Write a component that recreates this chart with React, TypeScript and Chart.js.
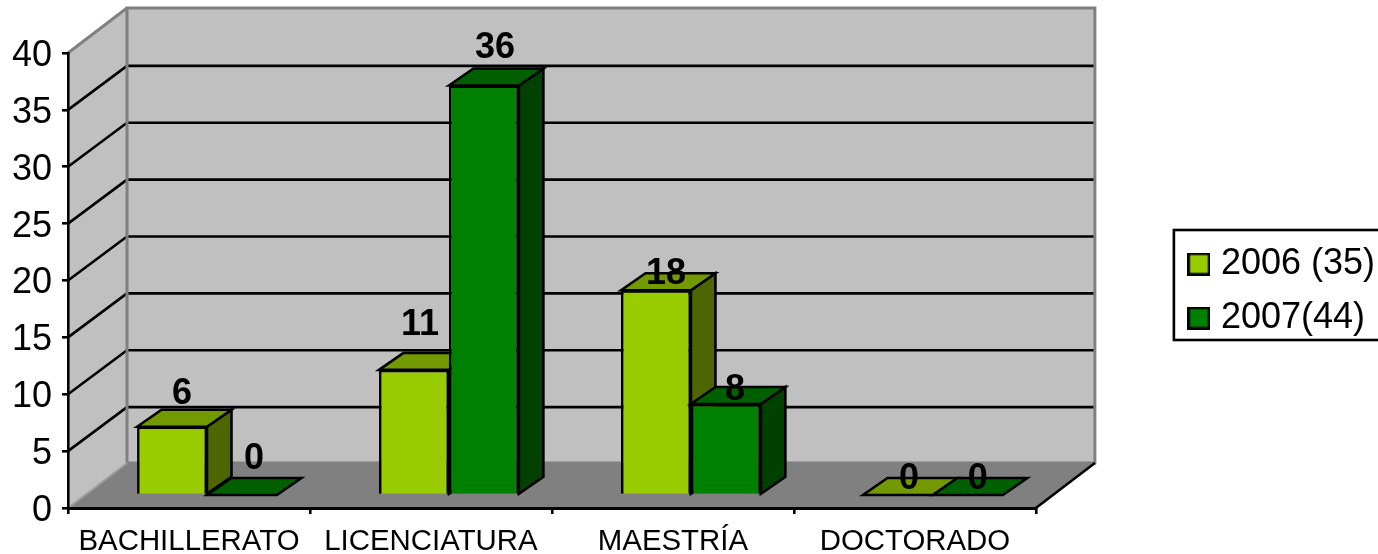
import React, { useEffect, useRef } from "react";
import { Chart, registerables, layouts } from "chart.js";

Chart.register(...registerables);

const categories = ["BACHILLERATO", "LICENCIATURA", "MAESTRÍA", "DOCTORADO"];
const seriesNames = ["2006 (35)", "2007(44)"];
const values2006 = [6, 11, 18, 0];
const values2007 = [0, 36, 8, 0];

const FONT = "'Liberation Sans', Arial, sans-serif";
const frontColors = ["#99cc00", "#008000"];
const topColors = ["#739900", "#006000"];
const sideColors = ["#4d6600", "#004000"];

// Depth of the 3D box, and of the bars within it
const WALL = { dx: 59, dy: -45 };
const GRID_DY = -44;
const BAR_SHIFT = { dx: 18, dy: -13 };
const BAR_DEPTH = { dx: 24.5, dy: -17 };
const LINE = 2.6;

// Offsets of the value labels from the front-top centre of each bar
const labelOffsets = [
  [[10, -33], [6, -45], [10, -16], [11, -16]],
  [[12, -36], [11, -37], [9, -14], [10, -16]],
];

function poly(ctx: CanvasRenderingContext2D, pts: number[][], fill: string | null, stroke: string | null, lw = LINE) {
  ctx.beginPath();
  pts.forEach(([x, y], i) => (i ? ctx.lineTo(x, y) : ctx.moveTo(x, y)));
  ctx.closePath();
  if (fill) {
    ctx.fillStyle = fill;
    ctx.fill();
  }
  if (stroke) {
    ctx.strokeStyle = stroke;
    ctx.lineWidth = lw;
    ctx.lineJoin = "miter";
    ctx.stroke();
  }
}

function line(ctx: CanvasRenderingContext2D, pts: number[][], stroke: string, lw: number) {
  ctx.beginPath();
  pts.forEach(([x, y], i) => (i ? ctx.lineTo(x, y) : ctx.moveTo(x, y)));
  ctx.strokeStyle = stroke;
  ctx.lineWidth = lw;
  ctx.stroke();
}

function drawFaces(ctx: CanvasRenderingContext2D, meta: any, index: number) {
  meta.data.forEach((el: any) => {
    const { x, y, base, width } = el.getProps(["x", "y", "base", "width"], true);
    const l = x - width / 2;
    const r = x + width / 2;
    const { dx, dy } = BAR_DEPTH;
    if (base - y > 0.5) {
      poly(ctx, [[r, y], [r + dx, y + dy], [r + dx, base + dy], [r, base]], sideColors[index], "#000");
    }
    poly(ctx, [[l, y], [l + dx, y + dy], [r + dx, y + dy], [r, y]], topColors[index], "#000");
  });
}

function swatch(color: string) {
  const c = document.createElement("canvas");
  c.width = 23;
  c.height = 23;
  const g = c.getContext("2d")!;
  g.fillStyle = color;
  g.fillRect(1, 1, 21, 21);
  g.strokeStyle = "#000";
  g.lineWidth = 2.6;
  g.strokeRect(1.3, 1.3, 20.4, 20.4);
  return c;
}

const spacer = (position: string, size: number) => ({
  position,
  weight: 0,
  fullSize: false,
  options: {},
  left: 0,
  top: 0,
  right: 0,
  bottom: 0,
  width: 0,
  height: 0,
  isHorizontal() {
    return position === "top";
  },
  update(w: number, h: number) {
    if (position === "top") {
      this.width = w;
      this.height = size;
    } else {
      this.width = size;
      this.height = h;
    }
  },
  draw() {},
});

const box3d = {
  id: "box3d",
  beforeInit(chart: any) {
    layouts.addBox(chart, spacer("right", 141));
    layouts.addBox(chart, spacer("top", 25));
  },
  beforeDraw(chart: any) {
    const { ctx, chartArea: a, scales } = chart;
    const y = scales.y;
    const { dx, dy } = WALL;
    ctx.save();
    const bl = [a.left + dx, a.bottom + dy];
    const tl = [a.left + dx, a.top + dy];
    const tr = [a.right + dx, a.top + dy];
    const br = [a.right + dx, a.bottom + dy];
    poly(ctx, [tl, tr, br, bl], "#c0c0c0", null);
    poly(ctx, [[a.left, a.top], tl, bl, [a.left, a.bottom]], "#c0c0c0", null);
    poly(ctx, [[a.left, a.bottom], bl, br, [a.right, a.bottom]], "#808080", null);
    y.ticks.forEach((t: any) => {
      if (t.value === y.min || t.value === y.max) return;
      const py = y.getPixelForValue(t.value);
      line(ctx, [[a.left, py], [a.left + dx, py + GRID_DY], [a.right + dx, py + GRID_DY]], "#000", LINE);
    });
    line(ctx, [bl, tl, tr, br, bl], "#808080", 3);
    line(ctx, [[a.left, a.top], tl], "#808080", 3);
    line(ctx, [[a.left, a.bottom], bl], "#a0a0a0", 2);
    line(ctx, [[a.right, a.bottom], br], "#000", LINE);
    const hb = chart.legend.legendHitBoxes;
    if (hb && hb.length) {
      ctx.strokeStyle = "#000";
      ctx.lineWidth = LINE;
      ctx.strokeRect(hb[0].left - 21, hb[0].top - 16, 300, hb[1].top + hb[1].height - hb[0].top + 20);
    }
    ctx.restore();
  },
  beforeDatasetDraw(chart: any, args: any) {
    if (args.index === 1) return false; // drawn last, so that it covers the side of the 2006 bar
    const { ctx } = chart;
    ctx.save();
    ctx.translate(BAR_SHIFT.dx, BAR_SHIFT.dy);
    drawFaces(ctx, args.meta, args.index);
    return true;
  },
  afterDatasetDraw(chart: any) {
    chart.ctx.restore();
  },
  afterDatasetsDraw(chart: any) {
    const { ctx } = chart;
    const meta = chart.getDatasetMeta(1);
    ctx.save();
    ctx.translate(BAR_SHIFT.dx, BAR_SHIFT.dy);
    drawFaces(ctx, meta, 1);
    meta.controller.draw();
    ctx.restore();
    ctx.save();
    ctx.font = `bold 36px ${FONT}`;
    ctx.fillStyle = "#000";
    ctx.textAlign = "center";
    ctx.textBaseline = "middle";
    [0, 1].forEach((d) => {
      const m = chart.getDatasetMeta(d);
      m.data.forEach((el: any, i: number) => {
        const value = chart.data.datasets[d].data[i];
        const [ox, oy] = labelOffsets[d][i];
        ctx.fillText(String(value), el.x + BAR_SHIFT.dx + ox, el.y + BAR_SHIFT.dy + oy);
      });
    });
    ctx.restore();
  },
};

export default function App() {
  const ref = useRef<HTMLCanvasElement>(null);
  useEffect(() => {
    const chart = new Chart(ref.current!, {
      type: "bar",
      data: {
        labels: categories,
        datasets: [
          { label: seriesNames[0], data: values2006, backgroundColor: frontColors[0], borderColor: "#000", borderWidth: LINE, clip: false as any },
          { label: seriesNames[1], data: values2007, backgroundColor: frontColors[1], borderColor: "#000", borderWidth: LINE, clip: false as any },
        ],
      },
      options: {
        animation: false,
        responsive: false,
        devicePixelRatio: 1,
        layout: { autoPadding: false, padding: { top: 28, right: -7, bottom: 0, left: 0 } },
        datasets: { bar: { categoryPercentage: 0.578, barPercentage: 1 } },
        plugins: {
          title: { display: false },
          tooltip: { enabled: false },
          legend: {
            position: "right",
            labels: {
              usePointStyle: true,
              pointStyleWidth: 8,
              boxWidth: 8,
              padding: 18,
              color: "#000",
              font: { family: FONT, size: 36 },
              generateLabels: (c: any) =>
                c.data.datasets.map((ds: any, i: number) => ({
                  text: ds.label,
                  datasetIndex: i,
                  fontColor: "#000",
                  pointStyle: swatch(frontColors[i]),
                  fillStyle: frontColors[i],
                  strokeStyle: "#000",
                  lineWidth: 0,
                })),
            },
          },
        },
        scales: {
          x: {
            afterFit: (s: any) => {
              s.height = 46;
            },
            border: { color: "#000", width: 3 },
            grid: { drawOnChartArea: false, color: "#000", lineWidth: LINE, tickLength: 6 },
            ticks: { color: "#000", font: { family: FONT, size: 29.4 }, padding: 10, maxRotation: 0, autoSkip: false },
          },
          y: {
            min: 0,
            max: 40,
            afterFit: (s: any) => {
              s.width = 68;
            },
            border: { color: "#000", width: LINE },
            grid: { drawOnChartArea: false, color: "#000", lineWidth: LINE, tickLength: 6 },
            ticks: { color: "#000", stepSize: 5, font: { family: FONT, size: 36 }, padding: 10, labelOffset: 3 },
          },
        },
      },
      plugins: [box3d],
    } as any);
    return () => chart.destroy();
  }, []);
  return (
    <div style={{ position: "fixed", left: 0, top: 0, width: 1378, height: 554, background: "#fff" }}>
      <canvas ref={ref} width={1378} height={554} style={{ display: "block" }} />
    </div>
  );
}
